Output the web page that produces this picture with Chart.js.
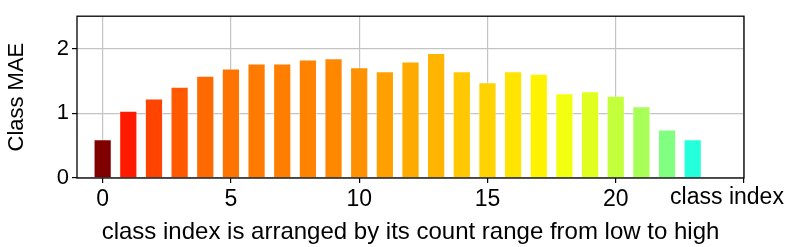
<!DOCTYPE html>
<html>
<head>
<meta charset="utf-8">
<script src="https://cdn.jsdelivr.net/npm/chart.js@4/dist/chart.umd.min.js"></script>
<style>
html,body{margin:0;padding:0;background:#fff;}
#c{display:block;}
</style>
</head>
<body>
<canvas id="c" width="789" height="247"></canvas>
<script>
const classIndex = [0,1,2,3,4,5,6,7,8,9,10,11,12,13,14,15,16,17,18,19,20,21,22,23];
const classMAE = [0.60,1.04,1.23,1.41,1.58,1.69,1.77,1.77,1.83,1.85,1.71,1.65,1.80,1.93,1.65,1.48,1.65,1.61,1.31,1.34,1.27,1.11,0.75,0.60];
const barColors = ['#800000','#ff1a00','#ff4400','#ff5a00','#ff6a00','#ff7400','#ff7a00','#ff7e00','#ff8200','#ff8800','#ff9000','#ffa000','#ffaa00','#ffb400','#ffc800','#ffd200','#ffe400','#fff200','#f2ff10','#e0ff20','#c4ff3c','#a8ff58','#80ff80','#24ffdc'];
const xTicks = [0,5,10,15,20];
const yTicks = [0,1,2];
const xLabelEnd = 'class index';
const xTitle = 'class index is arranged by its count range from low to high';
const yTitle = 'Class MAE';

const FONT = "'Liberation Sans', Arial, sans-serif";

const framePlugin = {
  id: 'frame',
  afterDraw(chart) {
    const {ctx, chartArea: a, scales} = chart;
    ctx.save();
    ctx.strokeStyle = '#000';
    ctx.lineWidth = 1.3;
    ctx.strokeRect(a.left, a.top, a.right - a.left, a.bottom - a.top);
    ctx.fillStyle = '#000';
    ctx.font = '23px ' + FONT;
    ctx.textAlign = 'center';
    ctx.textBaseline = 'middle';
    ctx.fillText(xLabelEnd, scales.x.getPixelForValue(25) - 17, 198);
    ctx.restore();
  }
};

new Chart(document.getElementById('c'), {
  type: 'bar',
  data: {
    datasets: [{
      data: classIndex.map((c, i) => ({x: c, y: classMAE[i]})),
      backgroundColor: barColors,
      borderColor: 'rgba(255,255,255,0.5)',
      borderWidth: 1,
      barPercentage: 0.71,
      categoryPercentage: 1.0
    }]
  },
  options: {
    responsive: false,
    animation: false,
    devicePixelRatio: 1,
    layout: {padding: {top: 15, right: 45, left: 0, bottom: 0}},
    plugins: {legend: {display: false}, tooltip: {enabled: false}},
    scales: {
      x: {
        type: 'linear',
        min: -1, max: 25,
        offset: false,
        z: 1,
        afterFit(s) { s.height = 69; },
        afterBuildTicks(s) { s.ticks = xTicks.concat([25]).map(v => ({value: v})); },
        ticks: {
          color: '#000',
          font: {family: FONT, size: 23},
          padding: 3,
          maxRotation: 0,
          autoSkip: false,
          callback: (v) => xTicks.includes(v) ? String(v) : ''
        },
        grid: {offset: false, color: '#c4c4c4', lineWidth: 1.2, drawTicks: true, tickLength: 5, tickColor: '#000', tickWidth: 1.2},
        border: {display: false},
        title: {display: true, text: xTitle, color: '#000', font: {family: FONT, size: 24}, padding: {top: 0, bottom: 0}}
      },
      y: {
        min: 0, max: 2.5,
        z: 1,
        afterFit(s) { s.width = 77; },
        afterBuildTicks(s) { s.ticks = yTicks.map(v => ({value: v})); },
        ticks: {
          color: '#000',
          font: {family: FONT, size: 22},
          padding: 3,
          callback: (v) => String(v)
        },
        grid: {color: '#c4c4c4', lineWidth: 1.2, drawTicks: true, tickLength: 5, tickColor: '#000', tickWidth: 1.2},
        border: {display: false},
        title: {display: true, text: yTitle, color: '#000', font: {family: FONT, size: 22}, padding: {top: 4, bottom: 0}}
      }
    }
  },
  plugins: [framePlugin]
});
</script>
</body>
</html>
